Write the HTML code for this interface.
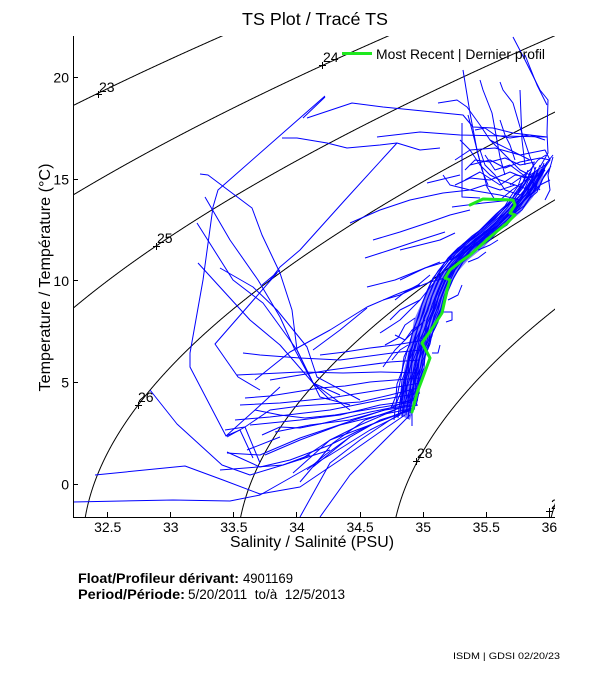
<!DOCTYPE html>
<html><head><meta charset="utf-8"><style>
html,body{margin:0;padding:0;background:#fff;}
svg{display:block;}
text{font-family:"Liberation Sans",Arial,Helvetica,sans-serif;fill:#000;}
</style></head><body>
<svg id="s" width="611" height="675" viewBox="0 0 611 675" xmlns="http://www.w3.org/2000/svg">
<defs>
<clipPath id="pc"><rect x="73" y="36" width="482" height="481"/></clipPath>
<path id="b1" d="M540,165 L536,176 L530,186 L522,196 L515,205 L507,214 L498,222 L489,230 L478,238 L468,247 L458,256 L450,266 L443,278 L437,292 L432,305 L428,318 L423,333 L419,347 L415,362 L412,377 L409,392 L407,405 L406,415"/>
<path id="b2" d="M535,172 L532,180 L525,190 L519,200 L510,208 L500,218 L492,226 L482,235 L472,242 L462,252 L455,262 L447,272 L441,285 L436,298 L433,310 L427,324 L424,338 L418,351 L416,365 L411,378 L410,390 L405,402"/>
<path id="b3" d="M545,170 L538,180 L533,192 L526,198 L518,210 L511,215 L503,225 L494,231 L486,240 L475,246 L466,256 L459,262 L452,274 L448,281 L442,295 L440,303 L434,316 L432,326 L426,338 L424,348 L419,360 L418,372 L414,384 L413,396 L410,410"/>
</defs>

<text x="242" y="25" font-size="17.5" textLength="146" lengthAdjust="spacingAndGlyphs">TS Plot / Tracé TS</text>

<g id="cont" clip-path="url(#pc)" fill="none" stroke="#000" stroke-width="1"></g>

<g clip-path="url(#pc)">
<polygon fill="#0000ff" fill-opacity="0.5" points="400,415 401,395 404,370 410,345 414,320 425,295 435,280 447,265 460,250 478,235 498,218 515,200 528,185 536,170 545,168 542,180 533,197 520,213 500,230 484,247 468,260 455,275 448,290 442,310 434,330 428,350 422,370 418,390 413,410 410,420"/>
<g fill="none" stroke="#0000ff" stroke-width="1" stroke-linejoin="round">
<use href="#b1"/><use href="#b1" transform="translate(-4,2)"/><use href="#b1" transform="translate(-8,3)"/><use href="#b1" transform="translate(4,-2)"/><use href="#b1" transform="translate(-12,5)"/><use href="#b1" transform="translate(7,-3)"/><use href="#b1" transform="translate(-6,-2)"/><use href="#b1" transform="translate(2,4)"/>
<use href="#b2"/><use href="#b2" transform="translate(-5,0)"/><use href="#b2" transform="translate(5,1)"/><use href="#b2" transform="translate(-9,2)"/><use href="#b2" transform="translate(3,-3)"/><use href="#b2" transform="translate(-14,6)"/><use href="#b2" transform="translate(8,-2)"/>
<use href="#b3"/><use href="#b3" transform="translate(-3,-1)"/><use href="#b3" transform="translate(-7,3)"/><use href="#b3" transform="translate(4,0)"/><use href="#b3" transform="translate(-10,1)"/><use href="#b3" transform="translate(6,-4)"/>

<polyline points="325,96 218,190 213,207 203,280 190,353 190,367 226,436 240,430 253,458"/>
<polyline points="303,118 325,97"/>
<polyline points="307,118 352,103 383,107 443,113 463,115 473,127 493,128 513,133 547,137"/>
<polyline points="282,138 297,138 327,143 347,148 380,145 397,143 420,150 440,148"/>
<polyline points="377,137 420,132 460,135 547,137"/>
<polyline points="397,143 345,200 300,250 280,267 270,280"/>
<polyline points="200,174 208,175 252,208 262,235 280,273 292,310 297,350 313,383 330,400"/>
<polyline points="205,197 230,240 258,280 280,317 295,350 313,383 340,395"/>
<polyline points="197,223 233,280 263,303 297,350 320,397 350,405"/>
<polyline points="198,263 250,320 280,345 313,383 350,410"/>
<polyline points="220,268 253,287 277,310 307,347 317,377 360,400"/>
<polyline points="277,273 215,344 238,377 260,390"/>
<polyline points="262,285 280,270"/>
<polyline points="226,436 255,410 280,387"/>
<polyline points="247,450 280,437"/>

<polyline points="150,390 177,424 222,465 250,475 283,465 330,450"/>
<polyline points="73,502 173,500 230,501 260,495 290,478 330,455 370,430 400,415"/>
<polyline points="95,475 185,466 223,480 260,494 300,487 340,460 380,432 405,415"/>
<polyline points="225,430 245,427 260,463"/>
<polyline points="227,452 260,467 290,460 330,445 370,425 408,410"/>
<polyline points="220,470 283,465 310,455"/>
<polyline points="300,517 330,463 360,440 390,420 410,408"/>
<polyline points="320,517 350,475 380,445 410,415"/>
<polyline points="300,482 333,443 365,420 400,408"/>
<polyline points="300,460 330,440 360,425 395,410"/>
<polyline points="313,467 350,437 380,420"/>

<polyline points="420,373 380,372 343,373 300,372 237,375"/>
<polyline points="420,383 380,390 330,398 280,403 240,405"/>
<polyline points="420,393 380,400 330,410 270,417 235,420"/>
<polyline points="418,400 380,405 340,415 300,420 250,425"/>
<polyline points="418,405 385,410 350,420 310,425 275,432"/>
<polyline points="415,408 380,415 340,425 300,440 265,455"/>
<polyline points="412,410 380,420 350,437 325,455 307,470"/>
<polyline points="410,410 370,425 330,440 293,473"/>
<polyline points="420,360 390,362 360,366 330,370 300,375 270,380"/>
<polyline points="422,350 400,352 370,356 340,360 300,358 260,355 243,353"/>
<polyline points="425,340 395,345 370,348 345,352 320,355"/>
<polyline points="418,388 390,395 360,402 330,404 300,406 270,410 245,427 227,437"/>
<polyline points="415,398 390,408 360,418 330,428 300,438 260,455 227,453"/>
<polyline points="412,402 395,405 365,410 335,415 305,418 280,415 255,410"/>
<polyline points="410,405 390,408 370,412 345,418 320,424 300,428 280,427 262,435"/>
<polyline points="420,378 395,380 370,382 345,386 320,388 295,392 270,396 245,398"/>
<polyline points="412,410 412,426"/>

<polyline points="255,380 290,352 330,330 367,307 395,295 420,285"/>
<polyline points="367,287 395,280 420,270 440,262"/>
<polyline points="313,350 340,330 367,308"/>
<polyline points="380,333 400,320 420,300 440,275"/>
<polyline points="383,367 395,350 410,335 425,320"/>
<polyline points="400,250 420,245 440,240 455,233"/>
<polyline points="400,280 425,268 445,262 460,255"/>
<polyline points="383,300 400,295 415,288 430,282 445,278"/>
<polyline points="390,320 400,310 410,305 420,300"/>
<polyline points="395,335 405,340 412,330 420,325"/>
<polyline points="395,300 405,292 418,285 430,275"/>
<polyline points="385,345 398,338 405,325 415,318"/>
<polyline points="392,360 400,350 408,345"/>
<polyline points="443,312 452,312 452,320 446,322"/>
<polyline points="432,353 438,353 440,345"/>
<polyline points="448,300 458,295 462,285"/>
<polyline points="478,250 490,245 498,240"/>
<polyline points="468,262 478,258 486,252"/>
<polyline points="350,223 380,210 410,200 443,193 470,190"/>
<polyline points="373,240 400,232 430,222 450,215 470,210"/>
<polyline points="365,258 390,250 420,240 445,232"/>
<polyline points="452,207 483,203 513,200"/>

<polyline points="513,37 525,60 540,90 548,100 547,133 548,153 540,167"/>
<polyline points="525,55 537,85 547,105"/>
<polyline points="463,70 470,113 477,150 487,187 495,200"/>
<polyline points="480,80 483,90 492,113 500,157 505,175"/>
<polyline points="500,82 503,90 513,103 520,127 530,157 535,170"/>
<polyline points="520,90 522,140 525,165"/>
<polyline points="462,123 462,197 480,198"/>
<polyline points="438,103 457,100 467,107 480,125 490,140 510,150 530,160"/>
<polyline points="443,175 450,185 470,190 500,195 520,200"/>
<polyline points="427,183 460,175"/>
<polyline points="470,165 490,160 505,168 520,162 540,158 550,160"/>
<polyline points="465,180 480,172 500,185 515,175 535,178 545,170"/>
<polyline points="485,155 495,170 510,165 530,180 540,190"/>
<polyline points="455,160 470,150 495,148 520,155 545,150 550,160 540,175"/>
<polyline points="553,157 548,175 550,190 545,200"/>
<polyline points="460,140 470,150 480,165 490,175 500,180 515,185"/>
<polyline points="465,170 475,160 490,162 505,158 520,165 535,162"/>
<polyline points="455,185 470,178 490,180 510,172 525,178 540,175"/>
<polyline points="480,150 485,165 495,175 505,190 520,195"/>
<polyline points="490,140 500,150 510,160 520,170 530,175 545,165"/>
<polyline points="470,190 485,185 500,190 515,185 530,190"/>
<polyline points="500,120 505,135 510,145 515,160"/>
<polyline points="475,130 485,128 495,135 510,138 530,135 545,140"/>
<polyline points="553,155 545,165 540,175 535,190 525,200"/>
<polyline points="550,180 540,185 530,195 520,205"/>
<polyline points="468,115 472,130 477,150 482,170 488,185"/>
<polyline points="510,185 520,178 530,170 538,160 546,155"/>
<polyline points="500,200 512,190 522,183 532,175"/>
</g>

<polyline fill="none" stroke="#1ee81e" stroke-width="3" stroke-linejoin="round" stroke-linecap="round" points="470,205 483,199 513,200 515,205 510,213 515,215 507,223 490,237 470,255 460,262 450,270 445,278 450,280 447,290 442,313 433,327 422,343 430,358 423,377 417,393 412,412"/>
</g>

<g clip-path="url(#pc)" stroke="#000" stroke-width="1">
<path d="M95,94.5h7M98.5,91v7"/>
<path d="M319,65.5h7M322.5,62v7"/>
<path d="M153,246.5h7M156.5,243v7"/>
<path d="M135,405.5h7M138.5,402v7"/>
<path d="M413,461.5h7M416.5,458v7"/>
<path d="M546,511.5h7M549.5,508v7"/>
</g>
<g clip-path="url(#pc)" font-size="14">
<text x="99" y="92">23</text>
<text x="323" y="62">24</text>
<text x="157" y="243">25</text>
<text x="138" y="402">26</text>
<text x="417" y="458">28</text>
<text x="551" y="509">29</text>
</g>

<line x1="342" y1="53.5" x2="372" y2="53.5" stroke="#1ee81e" stroke-width="3"/>
<text x="376" y="59" font-size="14" textLength="169" lengthAdjust="spacingAndGlyphs">Most Recent | Dernier profil</text>

<g stroke="#000" stroke-width="1" shape-rendering="crispEdges">
<line x1="73.5" y1="36" x2="73.5" y2="517.5"/>
<line x1="73" y1="517.5" x2="555" y2="517.5"/>
<line x1="73" y1="77.5" x2="78" y2="77.5"/>
<line x1="73" y1="179.5" x2="78" y2="179.5"/>
<line x1="73" y1="280.5" x2="78" y2="280.5"/>
<line x1="73" y1="382.5" x2="78" y2="382.5"/>
<line x1="73" y1="484.5" x2="78" y2="484.5"/>
<line x1="107.5" y1="517" x2="107.5" y2="512"/>
<line x1="170.5" y1="517" x2="170.5" y2="512"/>
<line x1="233.5" y1="517" x2="233.5" y2="512"/>
<line x1="296.5" y1="517" x2="296.5" y2="512"/>
<line x1="360.5" y1="517" x2="360.5" y2="512"/>
<line x1="423.5" y1="517" x2="423.5" y2="512"/>
<line x1="486.5" y1="517" x2="486.5" y2="512"/>
<line x1="549.5" y1="517" x2="549.5" y2="512"/>
</g>
<g font-size="14" text-anchor="end">
<text x="69" y="82.5">20</text>
<text x="69" y="184.5">15</text>
<text x="69" y="285.8">10</text>
<text x="69" y="387.5">5</text>
<text x="69" y="489.3">0</text>
</g>
<g font-size="14" text-anchor="middle">
<text x="107.7" y="532">32.5</text>
<text x="170.8" y="532">33</text>
<text x="233.9" y="532">33.5</text>
<text x="297" y="532">34</text>
<text x="360.1" y="532">34.5</text>
<text x="423.2" y="532">35</text>
<text x="486.3" y="532">35.5</text>
<text x="549.4" y="532">36</text>
</g>
<text x="230" y="547" font-size="15.5" textLength="164" lengthAdjust="spacingAndGlyphs">Salinity / Salinité (PSU)</text>
<text transform="translate(50,391.5) rotate(-90)" x="0" y="0" font-size="15.5" textLength="228" lengthAdjust="spacingAndGlyphs">Temperature / Température (°C)</text>

<text x="78" y="583" font-size="13.5" font-weight="bold" textLength="161" lengthAdjust="spacingAndGlyphs">Float/Profileur dérivant:</text>
<text x="243" y="583" font-size="13.5" textLength="50" lengthAdjust="spacingAndGlyphs">4901169</text>
<text x="78" y="599" font-size="13.5" font-weight="bold" textLength="107" lengthAdjust="spacingAndGlyphs">Period/Période:</text>
<text x="188" y="599" font-size="13.5" textLength="157" lengthAdjust="spacingAndGlyphs" xml:space="preserve">5/20/2011  to/à  12/5/2013</text>
<text x="453" y="659" font-size="9.5" textLength="107" lengthAdjust="spacingAndGlyphs">ISDM | GDSI  02/20/23</text>
</svg>
<script>
(function(){
function sig(S,T){var T2=T*T,T3=T2*T,T4=T3*T,T5=T4*T;
var rw=999.842594+6.793952e-2*T-9.095290e-3*T2+1.001685e-4*T3-1.120083e-6*T4+6.536332e-9*T5;
var A=8.24493e-1-4.0899e-3*T+7.6438e-5*T2-8.2467e-7*T3+5.3875e-9*T4;
var B=-5.72466e-3+1.0227e-4*T-1.6546e-6*T2;
return rw+A*S+B*Math.pow(S,1.5)+4.8314e-4*S*S-1000;}
var g=document.getElementById('cont');
var levels=[21,22,23,24,25,26,27,28,29,30];
for(var k=0;k<levels.length;k++){var L=levels[k];var d='';
for(var T=-1.8;T<=22.3;T+=0.02){var lo=25,hi=42;
for(var i=0;i<50;i++){var m=(lo+hi)/2;if(sig(m,T)<L)lo=m;else hi=m;}
var S=(lo+hi)/2;var x=297+(S-34)*126.2;var y=484.3-20.35*T;
if(x<60||x>570)continue;
d+=(d?'L':'M')+x.toFixed(2)+','+y.toFixed(2);}
if(d){var p=document.createElementNS('http://www.w3.org/2000/svg','path');p.setAttribute('d',d);g.appendChild(p);}}
})();
</script>
</body></html>
